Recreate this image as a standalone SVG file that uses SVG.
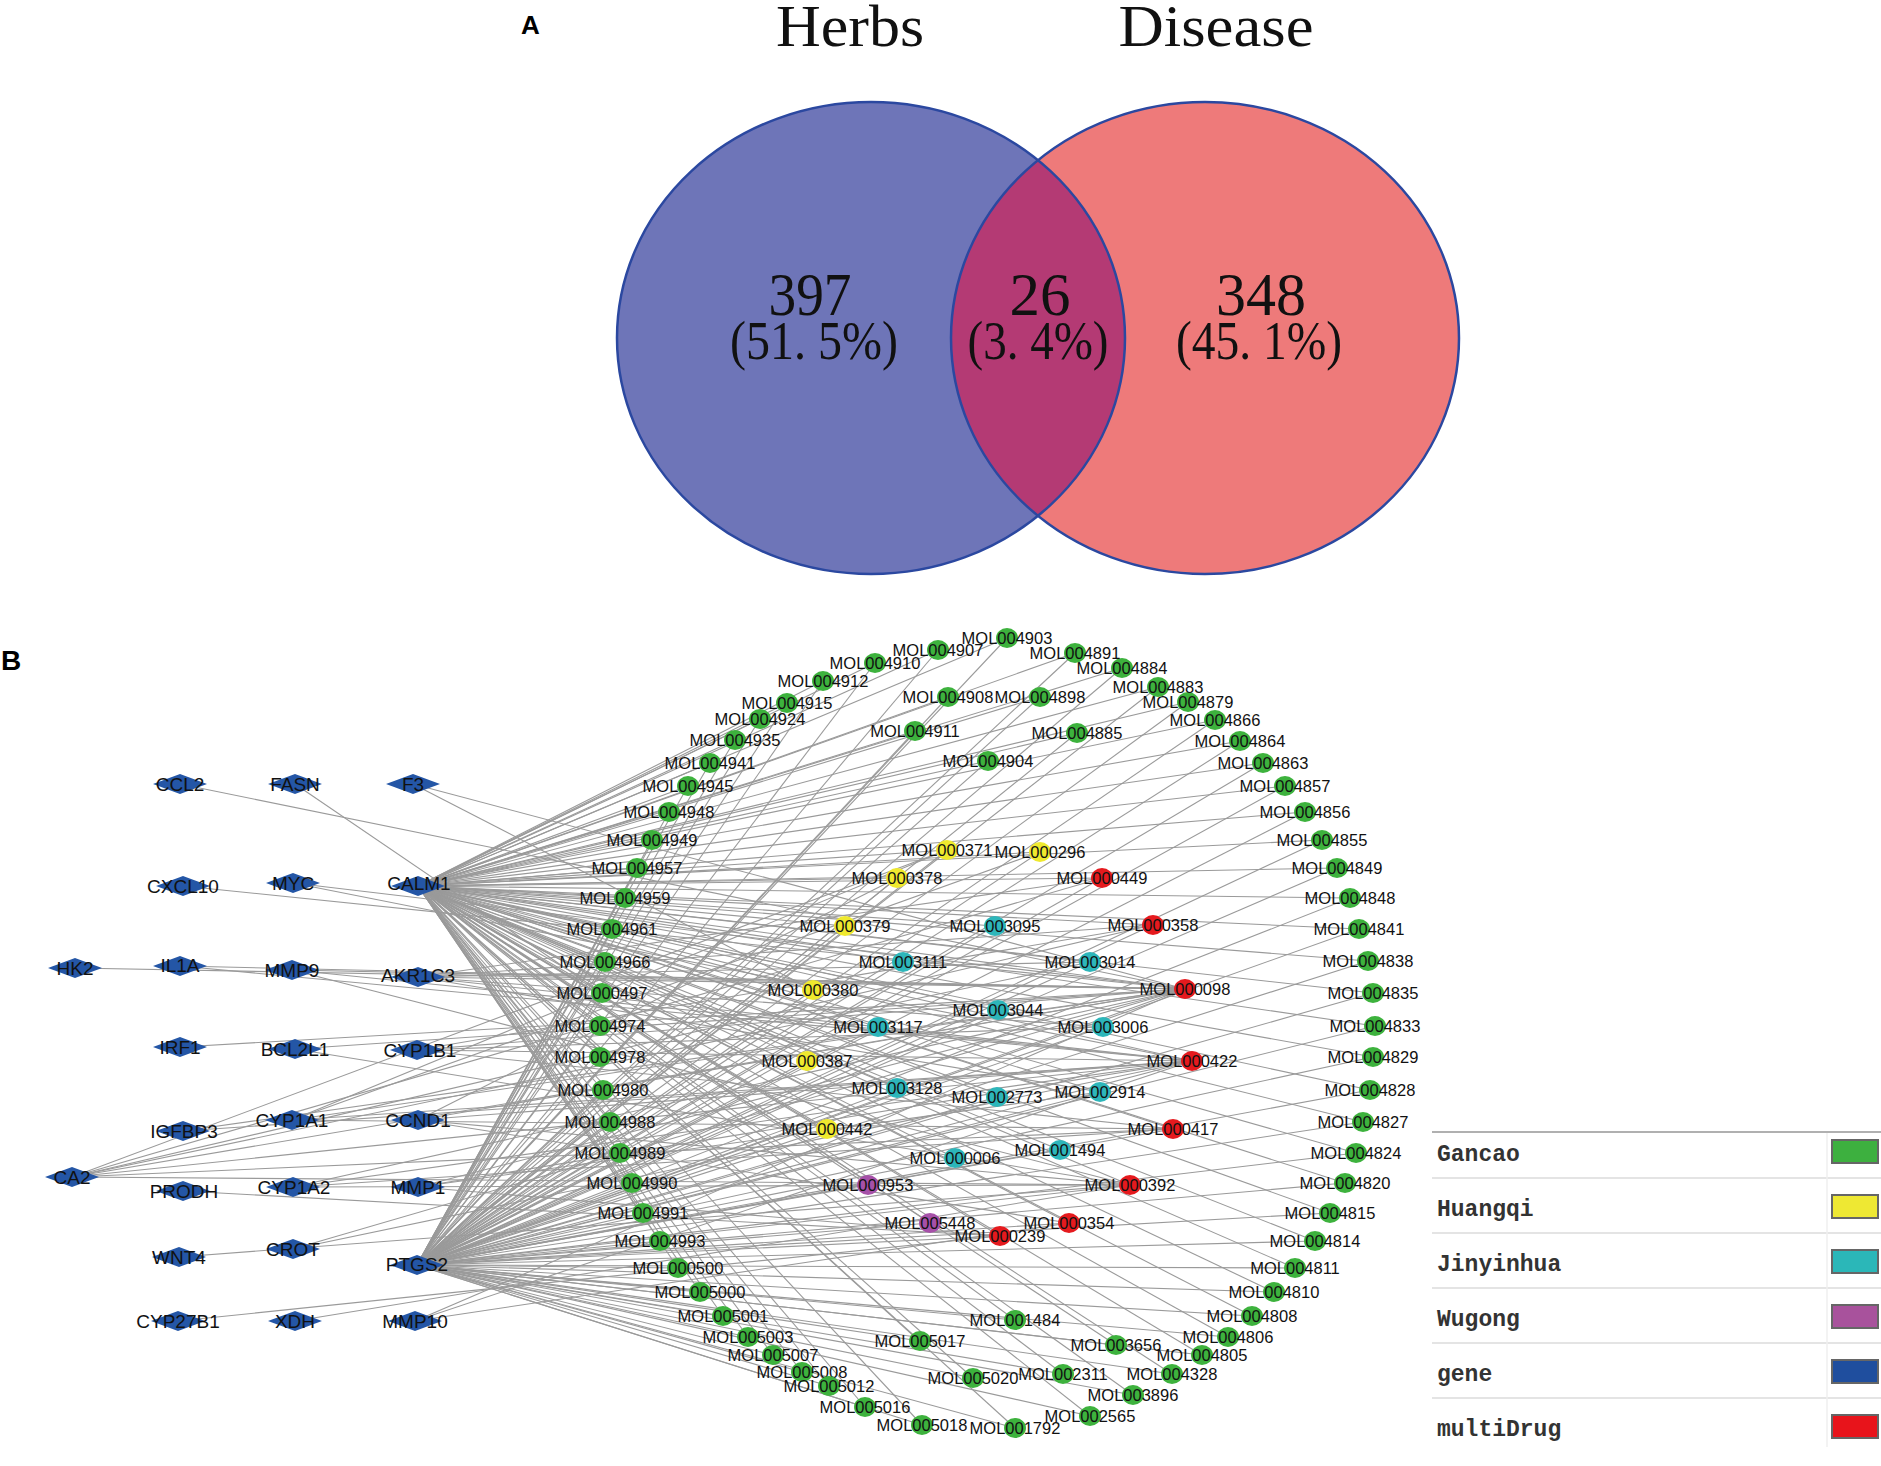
<svg xmlns="http://www.w3.org/2000/svg" xmlns:xlink="http://www.w3.org/1999/xlink" width="1881" height="1466" viewBox="0 0 1881 1466">
<style>
.bg{fill:#ffffff}
.venn-stroke{fill:none;stroke:#2B48A0;stroke-width:2.5}
.vt{font-family:"Liberation Serif","DejaVu Serif",serif;fill:#111;text-anchor:middle}
.panel{font-family:"Liberation Sans",Arial,sans-serif;font-weight:bold;fill:#000}
.edges line{stroke:#9a9a9a;stroke-width:1.1}
.mol text{font-family:"Liberation Sans",Arial,sans-serif;font-size:16.5px;fill:#111;text-anchor:middle}
.gene text{font-family:"Liberation Sans",Arial,sans-serif;font-size:19px;fill:#111;text-anchor:middle}
.g ellipse{fill:#3DB23D}
.y ellipse{fill:#EFE92E}
.c ellipse{fill:#2DB6BA}
.p ellipse{fill:#A650A8}
.r ellipse{fill:#E51A1E}
.dia{fill:#2456A6}
.lg text{font-family:"Liberation Mono","DejaVu Sans Mono",monospace;font-size:23px;font-weight:bold;fill:#333}
.lg rect{stroke:#666;stroke-width:2}
</style>
<defs>
<clipPath id="clipL"><ellipse cx="871" cy="338" rx="254" ry="236"/></clipPath>
<polygon id="dia" class="dia" points="-27,0 0,-10 27,0 0,10"/>
</defs>
<rect class="bg" x="0" y="0" width="1881" height="1466"/>

<g id="panelA">
<text class="panel" x="521" y="34" font-size="26">A</text>
<ellipse cx="871" cy="338" rx="254" ry="236" fill="#6E75B8"/>
<ellipse cx="1205" cy="338" rx="254" ry="236" fill="#EE7A7A"/>
<ellipse cx="1205" cy="338" rx="254" ry="236" fill="#B43A74" clip-path="url(#clipL)"/>
<ellipse class="venn-stroke" cx="871" cy="338" rx="254" ry="236"/>
<ellipse class="venn-stroke" cx="1205" cy="338" rx="254" ry="236"/>
<text class="vt" x="850" y="46" font-size="60" textLength="148" lengthAdjust="spacingAndGlyphs">Herbs</text>
<text class="vt" x="1216" y="46" font-size="60" textLength="195" lengthAdjust="spacingAndGlyphs">Disease</text>
<text class="vt" x="810" y="315" font-size="62" textLength="83" lengthAdjust="spacingAndGlyphs">397</text>
<text class="vt" x="814" y="359" font-size="54" textLength="168" lengthAdjust="spacingAndGlyphs">(51. 5%)</text>
<text class="vt" x="1040" y="315" font-size="62" textLength="61" lengthAdjust="spacingAndGlyphs">26</text>
<text class="vt" x="1038" y="359" font-size="54" textLength="141" lengthAdjust="spacingAndGlyphs">(3. 4%)</text>
<text class="vt" x="1261" y="315" font-size="62" textLength="90" lengthAdjust="spacingAndGlyphs">348</text>
<text class="vt" x="1259" y="359" font-size="54" textLength="166" lengthAdjust="spacingAndGlyphs">(45. 1%)</text>
</g>

<text class="panel" x="1" y="670" font-size="28">B</text>

<g id="connectors" class="edges">
<line x1="418" y1="886" x2="1007" y2="638"/><line x1="418" y1="886" x2="938" y2="650"/><line x1="418" y1="886" x2="875" y2="663"/><line x1="418" y1="886" x2="823" y2="681"/><line x1="418" y1="886" x2="787" y2="703"/><line x1="418" y1="886" x2="760" y2="719"/><line x1="418" y1="886" x2="735" y2="740"/><line x1="418" y1="886" x2="710" y2="763"/><line x1="418" y1="886" x2="688" y2="786"/><line x1="418" y1="886" x2="669" y2="812"/><line x1="418" y1="886" x2="652" y2="840"/><line x1="418" y1="886" x2="637" y2="868"/><line x1="418" y1="886" x2="625" y2="898"/><line x1="418" y1="886" x2="612" y2="929"/><line x1="418" y1="886" x2="605" y2="962"/><line x1="418" y1="886" x2="602" y2="993"/><line x1="418" y1="886" x2="600" y2="1026"/><line x1="418" y1="886" x2="600" y2="1057"/><line x1="418" y1="886" x2="603" y2="1090"/><line x1="418" y1="886" x2="610" y2="1122"/><line x1="418" y1="886" x2="620" y2="1153"/><line x1="418" y1="886" x2="632" y2="1183"/><line x1="418" y1="886" x2="643" y2="1213"/><line x1="418" y1="886" x2="660" y2="1241"/><line x1="418" y1="886" x2="678" y2="1268"/><line x1="418" y1="886" x2="700" y2="1292"/><line x1="418" y1="886" x2="723" y2="1316"/><line x1="418" y1="886" x2="748" y2="1337"/><line x1="418" y1="886" x2="773" y2="1355"/><line x1="418" y1="886" x2="802" y2="1372"/><line x1="418" y1="886" x2="829" y2="1386"/><line x1="418" y1="886" x2="865" y2="1407"/><line x1="418" y1="886" x2="922" y2="1425"/><line x1="418" y1="886" x2="1015" y2="1428"/><line x1="418" y1="886" x2="1090" y2="1416"/><line x1="418" y1="886" x2="1133" y2="1395"/><line x1="418" y1="886" x2="1172" y2="1374"/><line x1="418" y1="886" x2="1202" y2="1355"/><line x1="418" y1="886" x2="1228" y2="1337"/><line x1="418" y1="886" x2="1252" y2="1316"/><line x1="418" y1="886" x2="1274" y2="1292"/><line x1="418" y1="886" x2="1295" y2="1268"/><line x1="418" y1="886" x2="1315" y2="1241"/><line x1="418" y1="886" x2="1330" y2="1213"/><line x1="418" y1="886" x2="1345" y2="1183"/><line x1="418" y1="886" x2="1356" y2="1153"/><line x1="418" y1="886" x2="1363" y2="1122"/><line x1="418" y1="886" x2="1370" y2="1090"/><line x1="418" y1="886" x2="1373" y2="1057"/><line x1="418" y1="886" x2="1375" y2="1026"/><line x1="418" y1="886" x2="1373" y2="993"/><line x1="418" y1="886" x2="1368" y2="961"/><line x1="418" y1="886" x2="1359" y2="929"/><line x1="418" y1="886" x2="1350" y2="898"/><line x1="418" y1="886" x2="1337" y2="868"/><line x1="418" y1="886" x2="1322" y2="840"/><line x1="418" y1="886" x2="1305" y2="812"/><line x1="418" y1="886" x2="1285" y2="786"/><line x1="418" y1="886" x2="1263" y2="763"/><line x1="418" y1="886" x2="1240" y2="741"/><line x1="418" y1="886" x2="1215" y2="720"/><line x1="418" y1="886" x2="1188" y2="702"/><line x1="418" y1="886" x2="1158" y2="687"/><line x1="418" y1="886" x2="1122" y2="668"/><line x1="418" y1="886" x2="1075" y2="653"/><line x1="418" y1="886" x2="948" y2="697"/><line x1="418" y1="886" x2="1040" y2="697"/><line x1="418" y1="886" x2="915" y2="731"/><line x1="418" y1="886" x2="1077" y2="733"/><line x1="418" y1="886" x2="988" y2="761"/><line x1="418" y1="886" x2="947" y2="850"/><line x1="418" y1="886" x2="1040" y2="852"/><line x1="418" y1="886" x2="897" y2="878"/><line x1="418" y1="886" x2="1102" y2="878"/><line x1="418" y1="886" x2="845" y2="926"/><line x1="418" y1="886" x2="995" y2="926"/><line x1="418" y1="886" x2="1153" y2="925"/><line x1="418" y1="886" x2="903" y2="962"/><line x1="418" y1="886" x2="1090" y2="962"/><line x1="418" y1="886" x2="813" y2="990"/><line x1="418" y1="886" x2="1185" y2="989"/><line x1="418" y1="886" x2="998" y2="1010"/><line x1="418" y1="886" x2="878" y2="1027"/><line x1="418" y1="886" x2="1103" y2="1027"/><line x1="418" y1="886" x2="807" y2="1061"/><line x1="418" y1="886" x2="1192" y2="1061"/><line x1="418" y1="886" x2="897" y2="1088"/><line x1="418" y1="886" x2="997" y2="1097"/><line x1="418" y1="886" x2="1100" y2="1092"/><line x1="418" y1="886" x2="827" y2="1129"/><line x1="418" y1="886" x2="1173" y2="1129"/><line x1="418" y1="886" x2="955" y2="1158"/><line x1="418" y1="886" x2="1060" y2="1150"/><line x1="418" y1="886" x2="868" y2="1185"/><line x1="418" y1="886" x2="1130" y2="1185"/><line x1="418" y1="886" x2="930" y2="1223"/><line x1="418" y1="886" x2="1069" y2="1223"/><line x1="418" y1="886" x2="1000" y2="1236"/><line x1="418" y1="886" x2="920" y2="1341"/><line x1="418" y1="886" x2="1015" y2="1320"/><line x1="418" y1="886" x2="1116" y2="1345"/><line x1="418" y1="886" x2="973" y2="1378"/><line x1="418" y1="886" x2="1063" y2="1374"/>
<line x1="417" y1="1265" x2="1007" y2="638"/><line x1="417" y1="1265" x2="938" y2="650"/><line x1="417" y1="1265" x2="875" y2="663"/><line x1="417" y1="1265" x2="823" y2="681"/><line x1="417" y1="1265" x2="787" y2="703"/><line x1="417" y1="1265" x2="760" y2="719"/><line x1="417" y1="1265" x2="735" y2="740"/><line x1="417" y1="1265" x2="710" y2="763"/><line x1="417" y1="1265" x2="688" y2="786"/><line x1="417" y1="1265" x2="669" y2="812"/><line x1="417" y1="1265" x2="652" y2="840"/><line x1="417" y1="1265" x2="637" y2="868"/><line x1="417" y1="1265" x2="625" y2="898"/><line x1="417" y1="1265" x2="612" y2="929"/><line x1="417" y1="1265" x2="605" y2="962"/><line x1="417" y1="1265" x2="602" y2="993"/><line x1="417" y1="1265" x2="600" y2="1026"/><line x1="417" y1="1265" x2="600" y2="1057"/><line x1="417" y1="1265" x2="603" y2="1090"/><line x1="417" y1="1265" x2="610" y2="1122"/><line x1="417" y1="1265" x2="620" y2="1153"/><line x1="417" y1="1265" x2="632" y2="1183"/><line x1="417" y1="1265" x2="643" y2="1213"/><line x1="417" y1="1265" x2="660" y2="1241"/><line x1="417" y1="1265" x2="678" y2="1268"/><line x1="417" y1="1265" x2="700" y2="1292"/><line x1="417" y1="1265" x2="723" y2="1316"/><line x1="417" y1="1265" x2="748" y2="1337"/><line x1="417" y1="1265" x2="773" y2="1355"/><line x1="417" y1="1265" x2="802" y2="1372"/><line x1="417" y1="1265" x2="829" y2="1386"/><line x1="417" y1="1265" x2="865" y2="1407"/><line x1="417" y1="1265" x2="922" y2="1425"/><line x1="417" y1="1265" x2="1015" y2="1428"/><line x1="417" y1="1265" x2="1090" y2="1416"/><line x1="417" y1="1265" x2="1133" y2="1395"/><line x1="417" y1="1265" x2="1172" y2="1374"/><line x1="417" y1="1265" x2="1202" y2="1355"/><line x1="417" y1="1265" x2="1228" y2="1337"/><line x1="417" y1="1265" x2="1252" y2="1316"/><line x1="417" y1="1265" x2="1274" y2="1292"/><line x1="417" y1="1265" x2="1295" y2="1268"/><line x1="417" y1="1265" x2="1315" y2="1241"/><line x1="417" y1="1265" x2="1330" y2="1213"/><line x1="417" y1="1265" x2="1345" y2="1183"/><line x1="417" y1="1265" x2="1356" y2="1153"/><line x1="417" y1="1265" x2="1363" y2="1122"/><line x1="417" y1="1265" x2="1370" y2="1090"/><line x1="417" y1="1265" x2="1373" y2="1057"/><line x1="417" y1="1265" x2="1375" y2="1026"/><line x1="417" y1="1265" x2="1373" y2="993"/><line x1="417" y1="1265" x2="1368" y2="961"/><line x1="417" y1="1265" x2="1359" y2="929"/><line x1="417" y1="1265" x2="1350" y2="898"/><line x1="417" y1="1265" x2="1337" y2="868"/><line x1="417" y1="1265" x2="1322" y2="840"/><line x1="417" y1="1265" x2="1305" y2="812"/><line x1="417" y1="1265" x2="1285" y2="786"/><line x1="417" y1="1265" x2="1263" y2="763"/><line x1="417" y1="1265" x2="1240" y2="741"/><line x1="417" y1="1265" x2="1215" y2="720"/><line x1="417" y1="1265" x2="1188" y2="702"/><line x1="417" y1="1265" x2="1158" y2="687"/><line x1="417" y1="1265" x2="1122" y2="668"/><line x1="417" y1="1265" x2="1075" y2="653"/><line x1="417" y1="1265" x2="948" y2="697"/><line x1="417" y1="1265" x2="1040" y2="697"/><line x1="417" y1="1265" x2="915" y2="731"/><line x1="417" y1="1265" x2="1077" y2="733"/><line x1="417" y1="1265" x2="988" y2="761"/><line x1="417" y1="1265" x2="947" y2="850"/><line x1="417" y1="1265" x2="1040" y2="852"/><line x1="417" y1="1265" x2="897" y2="878"/><line x1="417" y1="1265" x2="1102" y2="878"/><line x1="417" y1="1265" x2="845" y2="926"/><line x1="417" y1="1265" x2="995" y2="926"/><line x1="417" y1="1265" x2="1153" y2="925"/><line x1="417" y1="1265" x2="903" y2="962"/><line x1="417" y1="1265" x2="1090" y2="962"/><line x1="417" y1="1265" x2="813" y2="990"/><line x1="417" y1="1265" x2="1185" y2="989"/><line x1="417" y1="1265" x2="998" y2="1010"/><line x1="417" y1="1265" x2="878" y2="1027"/><line x1="417" y1="1265" x2="1103" y2="1027"/><line x1="417" y1="1265" x2="807" y2="1061"/><line x1="417" y1="1265" x2="1192" y2="1061"/><line x1="417" y1="1265" x2="897" y2="1088"/><line x1="417" y1="1265" x2="997" y2="1097"/><line x1="417" y1="1265" x2="1100" y2="1092"/><line x1="417" y1="1265" x2="827" y2="1129"/><line x1="417" y1="1265" x2="1173" y2="1129"/><line x1="417" y1="1265" x2="955" y2="1158"/><line x1="417" y1="1265" x2="1060" y2="1150"/><line x1="417" y1="1265" x2="868" y2="1185"/><line x1="417" y1="1265" x2="1130" y2="1185"/><line x1="417" y1="1265" x2="930" y2="1223"/><line x1="417" y1="1265" x2="1069" y2="1223"/><line x1="417" y1="1265" x2="1000" y2="1236"/><line x1="417" y1="1265" x2="920" y2="1341"/><line x1="417" y1="1265" x2="1015" y2="1320"/><line x1="417" y1="1265" x2="1116" y2="1345"/><line x1="417" y1="1265" x2="973" y2="1378"/><line x1="417" y1="1265" x2="1063" y2="1374"/>
<line x1="180" y1="784" x2="1185" y2="989"/>
<line x1="295" y1="784" x2="602" y2="993"/>
<line x1="413" y1="784" x2="1185" y2="989"/><line x1="413" y1="784" x2="813" y2="990"/>
<line x1="183" y1="886" x2="1185" y2="989"/>
<line x1="293" y1="883" x2="1185" y2="989"/><line x1="293" y1="883" x2="1192" y2="1061"/>
<line x1="75" y1="968" x2="1185" y2="989"/>
<line x1="180" y1="966" x2="1185" y2="989"/><line x1="180" y1="966" x2="1192" y2="1061"/>
<line x1="292" y1="970" x2="1185" y2="989"/><line x1="292" y1="970" x2="1192" y2="1061"/><line x1="292" y1="970" x2="1130" y2="1185"/>
<line x1="418" y1="977" x2="1185" y2="989"/><line x1="418" y1="977" x2="1192" y2="1061"/><line x1="418" y1="977" x2="1153" y2="925"/><line x1="418" y1="977" x2="1102" y2="878"/><line x1="418" y1="977" x2="1090" y2="962"/><line x1="418" y1="977" x2="1103" y2="1027"/><line x1="418" y1="977" x2="1100" y2="1092"/>
<line x1="180" y1="1047" x2="1185" y2="989"/>
<line x1="295" y1="1049" x2="1185" y2="989"/><line x1="295" y1="1049" x2="1130" y2="1185"/>
<line x1="417" y1="1050" x2="1185" y2="989"/><line x1="417" y1="1050" x2="1192" y2="1061"/><line x1="417" y1="1050" x2="1173" y2="1129"/><line x1="417" y1="1050" x2="1153" y2="925"/><line x1="417" y1="1050" x2="1103" y2="1027"/>
<line x1="183" y1="1131" x2="1185" y2="989"/><line x1="183" y1="1131" x2="1192" y2="1061"/>
<line x1="292" y1="1120" x2="1185" y2="989"/><line x1="292" y1="1120" x2="1192" y2="1061"/><line x1="292" y1="1120" x2="1173" y2="1129"/><line x1="292" y1="1120" x2="947" y2="850"/><line x1="292" y1="1120" x2="1040" y2="852"/>
<line x1="418" y1="1120" x2="1185" y2="989"/><line x1="418" y1="1120" x2="1192" y2="1061"/><line x1="418" y1="1120" x2="1130" y2="1185"/><line x1="418" y1="1120" x2="1069" y2="1223"/><line x1="418" y1="1120" x2="897" y2="878"/>
<line x1="72" y1="1177" x2="1185" y2="989"/><line x1="72" y1="1177" x2="1192" y2="1061"/><line x1="72" y1="1177" x2="1173" y2="1129"/><line x1="72" y1="1177" x2="1153" y2="925"/><line x1="72" y1="1177" x2="1102" y2="878"/><line x1="72" y1="1177" x2="1090" y2="962"/><line x1="72" y1="1177" x2="947" y2="850"/><line x1="72" y1="1177" x2="1130" y2="1185"/>
<line x1="183" y1="1191" x2="1000" y2="1236"/>
<line x1="293" y1="1187" x2="1185" y2="989"/><line x1="293" y1="1187" x2="1192" y2="1061"/><line x1="293" y1="1187" x2="1130" y2="1185"/><line x1="293" y1="1187" x2="1173" y2="1129"/>
<line x1="418" y1="1187" x2="1185" y2="989"/><line x1="418" y1="1187" x2="1192" y2="1061"/><line x1="418" y1="1187" x2="1000" y2="1236"/><line x1="418" y1="1187" x2="1100" y2="1092"/>
<line x1="179" y1="1257" x2="1130" y2="1185"/>
<line x1="293" y1="1249" x2="1185" y2="989"/><line x1="293" y1="1249" x2="1192" y2="1061"/>
<line x1="178" y1="1321" x2="1000" y2="1236"/>
<line x1="295" y1="1321" x2="1130" y2="1185"/>
<line x1="415" y1="1321" x2="1185" y2="989"/><line x1="415" y1="1321" x2="1192" y2="1061"/><line x1="415" y1="1321" x2="1069" y2="1223"/>
</g>

<g id="mol-nodes">
<g id="MOL004903" class="mol g"><ellipse cx="1007" cy="638" rx="11" ry="10"/><text x="1007" y="644">MOL004903</text></g>
<g id="MOL004907" class="mol g"><ellipse cx="938" cy="650" rx="11" ry="10"/><text x="938" y="656">MOL004907</text></g>
<g id="MOL004910" class="mol g"><ellipse cx="875" cy="663" rx="11" ry="10"/><text x="875" y="669">MOL004910</text></g>
<g id="MOL004912" class="mol g"><ellipse cx="823" cy="681" rx="11" ry="10"/><text x="823" y="687">MOL004912</text></g>
<g id="MOL004915" class="mol g"><ellipse cx="787" cy="703" rx="11" ry="10"/><text x="787" y="709">MOL004915</text></g>
<g id="MOL004924" class="mol g"><ellipse cx="760" cy="719" rx="11" ry="10"/><text x="760" y="725">MOL004924</text></g>
<g id="MOL004935" class="mol g"><ellipse cx="735" cy="740" rx="11" ry="10"/><text x="735" y="746">MOL004935</text></g>
<g id="MOL004941" class="mol g"><ellipse cx="710" cy="763" rx="11" ry="10"/><text x="710" y="769">MOL004941</text></g>
<g id="MOL004945" class="mol g"><ellipse cx="688" cy="786" rx="11" ry="10"/><text x="688" y="792">MOL004945</text></g>
<g id="MOL004948" class="mol g"><ellipse cx="669" cy="812" rx="11" ry="10"/><text x="669" y="818">MOL004948</text></g>
<g id="MOL004949" class="mol g"><ellipse cx="652" cy="840" rx="11" ry="10"/><text x="652" y="846">MOL004949</text></g>
<g id="MOL004957" class="mol g"><ellipse cx="637" cy="868" rx="11" ry="10"/><text x="637" y="874">MOL004957</text></g>
<g id="MOL004959" class="mol g"><ellipse cx="625" cy="898" rx="11" ry="10"/><text x="625" y="904">MOL004959</text></g>
<g id="MOL004961" class="mol g"><ellipse cx="612" cy="929" rx="11" ry="10"/><text x="612" y="935">MOL004961</text></g>
<g id="MOL004966" class="mol g"><ellipse cx="605" cy="962" rx="11" ry="10"/><text x="605" y="968">MOL004966</text></g>
<g id="MOL000497" class="mol g"><ellipse cx="602" cy="993" rx="11" ry="10"/><text x="602" y="999">MOL000497</text></g>
<g id="MOL004974" class="mol g"><ellipse cx="600" cy="1026" rx="11" ry="10"/><text x="600" y="1032">MOL004974</text></g>
<g id="MOL004978" class="mol g"><ellipse cx="600" cy="1057" rx="11" ry="10"/><text x="600" y="1063">MOL004978</text></g>
<g id="MOL004980" class="mol g"><ellipse cx="603" cy="1090" rx="11" ry="10"/><text x="603" y="1096">MOL004980</text></g>
<g id="MOL004988" class="mol g"><ellipse cx="610" cy="1122" rx="11" ry="10"/><text x="610" y="1128">MOL004988</text></g>
<g id="MOL004989" class="mol g"><ellipse cx="620" cy="1153" rx="11" ry="10"/><text x="620" y="1159">MOL004989</text></g>
<g id="MOL004990" class="mol g"><ellipse cx="632" cy="1183" rx="11" ry="10"/><text x="632" y="1189">MOL004990</text></g>
<g id="MOL004991" class="mol g"><ellipse cx="643" cy="1213" rx="11" ry="10"/><text x="643" y="1219">MOL004991</text></g>
<g id="MOL004993" class="mol g"><ellipse cx="660" cy="1241" rx="11" ry="10"/><text x="660" y="1247">MOL004993</text></g>
<g id="MOL000500" class="mol g"><ellipse cx="678" cy="1268" rx="11" ry="10"/><text x="678" y="1274">MOL000500</text></g>
<g id="MOL005000" class="mol g"><ellipse cx="700" cy="1292" rx="11" ry="10"/><text x="700" y="1298">MOL005000</text></g>
<g id="MOL005001" class="mol g"><ellipse cx="723" cy="1316" rx="11" ry="10"/><text x="723" y="1322">MOL005001</text></g>
<g id="MOL005003" class="mol g"><ellipse cx="748" cy="1337" rx="11" ry="10"/><text x="748" y="1343">MOL005003</text></g>
<g id="MOL005007" class="mol g"><ellipse cx="773" cy="1355" rx="11" ry="10"/><text x="773" y="1361">MOL005007</text></g>
<g id="MOL005008" class="mol g"><ellipse cx="802" cy="1372" rx="11" ry="10"/><text x="802" y="1378">MOL005008</text></g>
<g id="MOL005012" class="mol g"><ellipse cx="829" cy="1386" rx="11" ry="10"/><text x="829" y="1392">MOL005012</text></g>
<g id="MOL005016" class="mol g"><ellipse cx="865" cy="1407" rx="11" ry="10"/><text x="865" y="1413">MOL005016</text></g>
<g id="MOL005018" class="mol g"><ellipse cx="922" cy="1425" rx="11" ry="10"/><text x="922" y="1431">MOL005018</text></g>
<g id="MOL001792" class="mol g"><ellipse cx="1015" cy="1428" rx="11" ry="10"/><text x="1015" y="1434">MOL001792</text></g>
<g id="MOL002565" class="mol g"><ellipse cx="1090" cy="1416" rx="11" ry="10"/><text x="1090" y="1422">MOL002565</text></g>
<g id="MOL003896" class="mol g"><ellipse cx="1133" cy="1395" rx="11" ry="10"/><text x="1133" y="1401">MOL003896</text></g>
<g id="MOL004328" class="mol g"><ellipse cx="1172" cy="1374" rx="11" ry="10"/><text x="1172" y="1380">MOL004328</text></g>
<g id="MOL004805" class="mol g"><ellipse cx="1202" cy="1355" rx="11" ry="10"/><text x="1202" y="1361">MOL004805</text></g>
<g id="MOL004806" class="mol g"><ellipse cx="1228" cy="1337" rx="11" ry="10"/><text x="1228" y="1343">MOL004806</text></g>
<g id="MOL004808" class="mol g"><ellipse cx="1252" cy="1316" rx="11" ry="10"/><text x="1252" y="1322">MOL004808</text></g>
<g id="MOL004810" class="mol g"><ellipse cx="1274" cy="1292" rx="11" ry="10"/><text x="1274" y="1298">MOL004810</text></g>
<g id="MOL004811" class="mol g"><ellipse cx="1295" cy="1268" rx="11" ry="10"/><text x="1295" y="1274">MOL004811</text></g>
<g id="MOL004814" class="mol g"><ellipse cx="1315" cy="1241" rx="11" ry="10"/><text x="1315" y="1247">MOL004814</text></g>
<g id="MOL004815" class="mol g"><ellipse cx="1330" cy="1213" rx="11" ry="10"/><text x="1330" y="1219">MOL004815</text></g>
<g id="MOL004820" class="mol g"><ellipse cx="1345" cy="1183" rx="11" ry="10"/><text x="1345" y="1189">MOL004820</text></g>
<g id="MOL004824" class="mol g"><ellipse cx="1356" cy="1153" rx="11" ry="10"/><text x="1356" y="1159">MOL004824</text></g>
<g id="MOL004827" class="mol g"><ellipse cx="1363" cy="1122" rx="11" ry="10"/><text x="1363" y="1128">MOL004827</text></g>
<g id="MOL004828" class="mol g"><ellipse cx="1370" cy="1090" rx="11" ry="10"/><text x="1370" y="1096">MOL004828</text></g>
<g id="MOL004829" class="mol g"><ellipse cx="1373" cy="1057" rx="11" ry="10"/><text x="1373" y="1063">MOL004829</text></g>
<g id="MOL004833" class="mol g"><ellipse cx="1375" cy="1026" rx="11" ry="10"/><text x="1375" y="1032">MOL004833</text></g>
<g id="MOL004835" class="mol g"><ellipse cx="1373" cy="993" rx="11" ry="10"/><text x="1373" y="999">MOL004835</text></g>
<g id="MOL004838" class="mol g"><ellipse cx="1368" cy="961" rx="11" ry="10"/><text x="1368" y="967">MOL004838</text></g>
<g id="MOL004841" class="mol g"><ellipse cx="1359" cy="929" rx="11" ry="10"/><text x="1359" y="935">MOL004841</text></g>
<g id="MOL004848" class="mol g"><ellipse cx="1350" cy="898" rx="11" ry="10"/><text x="1350" y="904">MOL004848</text></g>
<g id="MOL004849" class="mol g"><ellipse cx="1337" cy="868" rx="11" ry="10"/><text x="1337" y="874">MOL004849</text></g>
<g id="MOL004855" class="mol g"><ellipse cx="1322" cy="840" rx="11" ry="10"/><text x="1322" y="846">MOL004855</text></g>
<g id="MOL004856" class="mol g"><ellipse cx="1305" cy="812" rx="11" ry="10"/><text x="1305" y="818">MOL004856</text></g>
<g id="MOL004857" class="mol g"><ellipse cx="1285" cy="786" rx="11" ry="10"/><text x="1285" y="792">MOL004857</text></g>
<g id="MOL004863" class="mol g"><ellipse cx="1263" cy="763" rx="11" ry="10"/><text x="1263" y="769">MOL004863</text></g>
<g id="MOL004864" class="mol g"><ellipse cx="1240" cy="741" rx="11" ry="10"/><text x="1240" y="747">MOL004864</text></g>
<g id="MOL004866" class="mol g"><ellipse cx="1215" cy="720" rx="11" ry="10"/><text x="1215" y="726">MOL004866</text></g>
<g id="MOL004879" class="mol g"><ellipse cx="1188" cy="702" rx="11" ry="10"/><text x="1188" y="708">MOL004879</text></g>
<g id="MOL004883" class="mol g"><ellipse cx="1158" cy="687" rx="11" ry="10"/><text x="1158" y="693">MOL004883</text></g>
<g id="MOL004884" class="mol g"><ellipse cx="1122" cy="668" rx="11" ry="10"/><text x="1122" y="674">MOL004884</text></g>
<g id="MOL004891" class="mol g"><ellipse cx="1075" cy="653" rx="11" ry="10"/><text x="1075" y="659">MOL004891</text></g>
<g id="MOL004908" class="mol g"><ellipse cx="948" cy="697" rx="11" ry="10"/><text x="948" y="703">MOL004908</text></g>
<g id="MOL004898" class="mol g"><ellipse cx="1040" cy="697" rx="11" ry="10"/><text x="1040" y="703">MOL004898</text></g>
<g id="MOL004911" class="mol g"><ellipse cx="915" cy="731" rx="11" ry="10"/><text x="915" y="737">MOL004911</text></g>
<g id="MOL004885" class="mol g"><ellipse cx="1077" cy="733" rx="11" ry="10"/><text x="1077" y="739">MOL004885</text></g>
<g id="MOL004904" class="mol g"><ellipse cx="988" cy="761" rx="11" ry="10"/><text x="988" y="767">MOL004904</text></g>
<g id="MOL000371" class="mol y"><ellipse cx="947" cy="850" rx="11" ry="10"/><text x="947" y="856">MOL000371</text></g>
<g id="MOL000296" class="mol y"><ellipse cx="1040" cy="852" rx="11" ry="10"/><text x="1040" y="858">MOL000296</text></g>
<g id="MOL000378" class="mol y"><ellipse cx="897" cy="878" rx="11" ry="10"/><text x="897" y="884">MOL000378</text></g>
<g id="MOL000449" class="mol r"><ellipse cx="1102" cy="878" rx="11" ry="10"/><text x="1102" y="884">MOL000449</text></g>
<g id="MOL000379" class="mol y"><ellipse cx="845" cy="926" rx="11" ry="10"/><text x="845" y="932">MOL000379</text></g>
<g id="MOL003095" class="mol c"><ellipse cx="995" cy="926" rx="11" ry="10"/><text x="995" y="932">MOL003095</text></g>
<g id="MOL000358" class="mol r"><ellipse cx="1153" cy="925" rx="11" ry="10"/><text x="1153" y="931">MOL000358</text></g>
<g id="MOL003111" class="mol c"><ellipse cx="903" cy="962" rx="11" ry="10"/><text x="903" y="968">MOL003111</text></g>
<g id="MOL003014" class="mol c"><ellipse cx="1090" cy="962" rx="11" ry="10"/><text x="1090" y="968">MOL003014</text></g>
<g id="MOL000380" class="mol y"><ellipse cx="813" cy="990" rx="11" ry="10"/><text x="813" y="996">MOL000380</text></g>
<g id="MOL000098" class="mol r"><ellipse cx="1185" cy="989" rx="11" ry="10"/><text x="1185" y="995">MOL000098</text></g>
<g id="MOL003044" class="mol c"><ellipse cx="998" cy="1010" rx="11" ry="10"/><text x="998" y="1016">MOL003044</text></g>
<g id="MOL003117" class="mol c"><ellipse cx="878" cy="1027" rx="11" ry="10"/><text x="878" y="1033">MOL003117</text></g>
<g id="MOL003006" class="mol c"><ellipse cx="1103" cy="1027" rx="11" ry="10"/><text x="1103" y="1033">MOL003006</text></g>
<g id="MOL000387" class="mol y"><ellipse cx="807" cy="1061" rx="11" ry="10"/><text x="807" y="1067">MOL000387</text></g>
<g id="MOL000422" class="mol r"><ellipse cx="1192" cy="1061" rx="11" ry="10"/><text x="1192" y="1067">MOL000422</text></g>
<g id="MOL003128" class="mol c"><ellipse cx="897" cy="1088" rx="11" ry="10"/><text x="897" y="1094">MOL003128</text></g>
<g id="MOL002773" class="mol c"><ellipse cx="997" cy="1097" rx="11" ry="10"/><text x="997" y="1103">MOL002773</text></g>
<g id="MOL002914" class="mol c"><ellipse cx="1100" cy="1092" rx="11" ry="10"/><text x="1100" y="1098">MOL002914</text></g>
<g id="MOL000442" class="mol y"><ellipse cx="827" cy="1129" rx="11" ry="10"/><text x="827" y="1135">MOL000442</text></g>
<g id="MOL000417" class="mol r"><ellipse cx="1173" cy="1129" rx="11" ry="10"/><text x="1173" y="1135">MOL000417</text></g>
<g id="MOL000006" class="mol c"><ellipse cx="955" cy="1158" rx="11" ry="10"/><text x="955" y="1164">MOL000006</text></g>
<g id="MOL001494" class="mol c"><ellipse cx="1060" cy="1150" rx="11" ry="10"/><text x="1060" y="1156">MOL001494</text></g>
<g id="MOL000953" class="mol p"><ellipse cx="868" cy="1185" rx="11" ry="10"/><text x="868" y="1191">MOL000953</text></g>
<g id="MOL000392" class="mol r"><ellipse cx="1130" cy="1185" rx="11" ry="10"/><text x="1130" y="1191">MOL000392</text></g>
<g id="MOL005448" class="mol p"><ellipse cx="930" cy="1223" rx="11" ry="10"/><text x="930" y="1229">MOL005448</text></g>
<g id="MOL000354" class="mol r"><ellipse cx="1069" cy="1223" rx="11" ry="10"/><text x="1069" y="1229">MOL000354</text></g>
<g id="MOL000239" class="mol r"><ellipse cx="1000" cy="1236" rx="11" ry="10"/><text x="1000" y="1242">MOL000239</text></g>
<g id="MOL005017" class="mol g"><ellipse cx="920" cy="1341" rx="11" ry="10"/><text x="920" y="1347">MOL005017</text></g>
<g id="MOL001484" class="mol g"><ellipse cx="1015" cy="1320" rx="11" ry="10"/><text x="1015" y="1326">MOL001484</text></g>
<g id="MOL003656" class="mol g"><ellipse cx="1116" cy="1345" rx="11" ry="10"/><text x="1116" y="1351">MOL003656</text></g>
<g id="MOL005020" class="mol g"><ellipse cx="973" cy="1378" rx="11" ry="10"/><text x="973" y="1384">MOL005020</text></g>
<g id="MOL002311" class="mol g"><ellipse cx="1063" cy="1374" rx="11" ry="10"/><text x="1063" y="1380">MOL002311</text></g>
</g>

<g id="gene-nodes">
<g id="CCL2" class="gene"><use href="#dia" x="180" y="784"/><text x="180" y="791">CCL2</text></g>
<g id="FASN" class="gene"><use href="#dia" x="295" y="784"/><text x="295" y="791">FASN</text></g>
<g id="F3" class="gene"><use href="#dia" x="413" y="784"/><text x="413" y="791">F3</text></g>
<g id="CXCL10" class="gene"><use href="#dia" x="183" y="886"/><text x="183" y="893">CXCL10</text></g>
<g id="MYC" class="gene"><use href="#dia" x="293" y="883"/><text x="293" y="890">MYC</text></g>
<g id="CALM1" class="gene"><use href="#dia" x="418" y="886"/><text x="419" y="890">CALM1</text></g>
<g id="HK2" class="gene"><use href="#dia" x="75" y="968"/><text x="75" y="975">HK2</text></g>
<g id="IL1A" class="gene"><use href="#dia" x="180" y="966"/><text x="180" y="972">IL1A</text></g>
<g id="MMP9" class="gene"><use href="#dia" x="292" y="970"/><text x="292" y="977">MMP9</text></g>
<g id="AKR1C3" class="gene"><use href="#dia" x="418" y="977"/><text x="418" y="982">AKR1C3</text></g>
<g id="IRF1" class="gene"><use href="#dia" x="180" y="1047"/><text x="180" y="1054">IRF1</text></g>
<g id="BCL2L1" class="gene"><use href="#dia" x="295" y="1049"/><text x="295" y="1056">BCL2L1</text></g>
<g id="CYP1B1" class="gene"><use href="#dia" x="417" y="1050"/><text x="420" y="1057">CYP1B1</text></g>
<g id="IGFBP3" class="gene"><use href="#dia" x="183" y="1131"/><text x="184" y="1138">IGFBP3</text></g>
<g id="CYP1A1" class="gene"><use href="#dia" x="292" y="1120"/><text x="292" y="1127">CYP1A1</text></g>
<g id="CCND1" class="gene"><use href="#dia" x="418" y="1120"/><text x="418" y="1127">CCND1</text></g>
<g id="CA2" class="gene"><use href="#dia" x="72" y="1177"/><text x="72" y="1184">CA2</text></g>
<g id="PRODH" class="gene"><use href="#dia" x="183" y="1191"/><text x="184" y="1198">PRODH</text></g>
<g id="CYP1A2" class="gene"><use href="#dia" x="293" y="1187"/><text x="294" y="1194">CYP1A2</text></g>
<g id="MMP1" class="gene"><use href="#dia" x="418" y="1187"/><text x="418" y="1194">MMP1</text></g>
<g id="WNT4" class="gene"><use href="#dia" x="179" y="1257"/><text x="179" y="1264">WNT4</text></g>
<g id="CROT" class="gene"><use href="#dia" x="293" y="1249"/><text x="293" y="1256">CROT</text></g>
<g id="PTGS2" class="gene"><use href="#dia" x="417" y="1265"/><text x="417" y="1271">PTGS2</text></g>
<g id="CYP27B1" class="gene"><use href="#dia" x="178" y="1321"/><text x="178" y="1328">CYP27B1</text></g>
<g id="XDH" class="gene"><use href="#dia" x="295" y="1321"/><text x="295" y="1328">XDH</text></g>
<g id="MMP10" class="gene"><use href="#dia" x="415" y="1321"/><text x="415" y="1328">MMP10</text></g>
</g>

<g id="legend" class="lg">
<line x1="1432" y1="1132" x2="1881" y2="1132" stroke="#b0b0b0" stroke-width="2"/>
<line x1="1432" y1="1178" x2="1881" y2="1178" stroke="#e4e4e4" stroke-width="2"/>
<line x1="1432" y1="1233" x2="1881" y2="1233" stroke="#e4e4e4" stroke-width="2"/>
<line x1="1432" y1="1288" x2="1881" y2="1288" stroke="#e4e4e4" stroke-width="2"/>
<line x1="1432" y1="1343" x2="1881" y2="1343" stroke="#e4e4e4" stroke-width="2"/>
<line x1="1432" y1="1398" x2="1881" y2="1398" stroke="#e4e4e4" stroke-width="2"/>
<line x1="1827" y1="1133" x2="1827" y2="1447" stroke="#efefef" stroke-width="1.5"/>
<text x="1437" y="1161">Gancao</text>
<text x="1437" y="1216">Huangqi</text>
<text x="1437" y="1271">Jinyinhua</text>
<text x="1437" y="1326">Wugong</text>
<text x="1437" y="1381">gene</text>
<text x="1437" y="1436">multiDrug</text>
<rect x="1832" y="1140" width="46" height="23" fill="#3DB03F"/>
<rect x="1832" y="1195" width="46" height="23" fill="#EEE833"/>
<rect x="1832" y="1250" width="46" height="23" fill="#2BB7B8"/>
<rect x="1832" y="1305" width="46" height="23" fill="#A8529C"/>
<rect x="1832" y="1360" width="46" height="23" fill="#1F4E9E"/>
<rect x="1832" y="1415" width="46" height="23" fill="#E8141B"/>
</g>
</svg>
